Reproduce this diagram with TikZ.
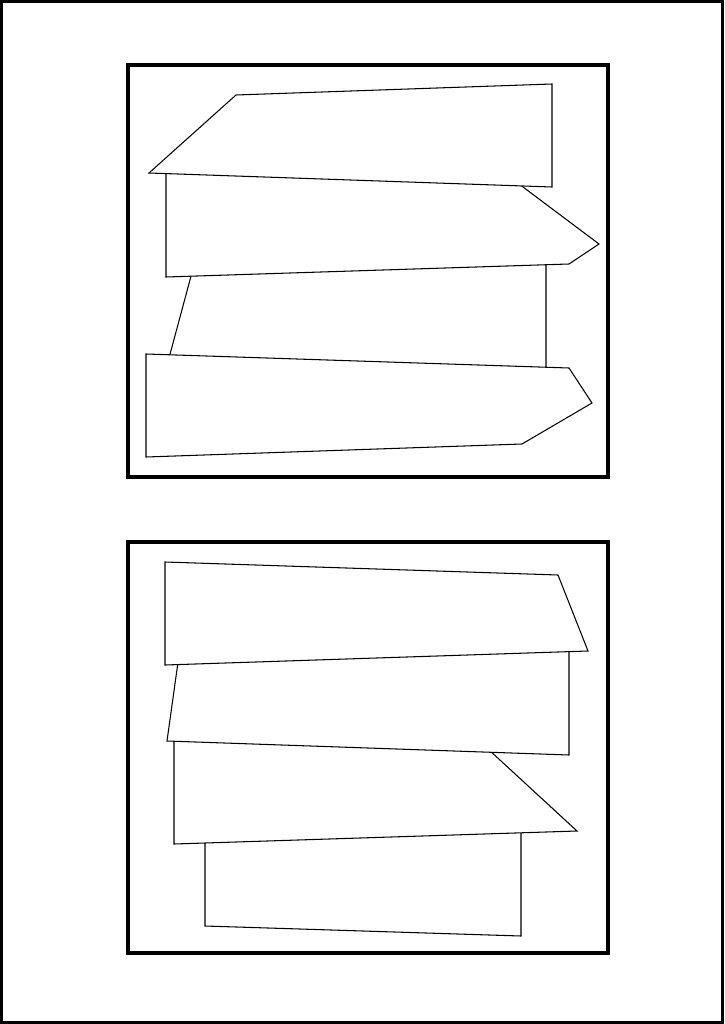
\documentclass[tikz,border=0pt]{standalone}
\usepackage{tikz}

\begin{document}
\begin{tikzpicture}
[
    x=0.025cm, y=-0.025cm,
    frame/.style={draw, line width=2.4pt},
    panel/.style={draw, line width=2.6pt},
    plank/.style={draw, fill=white, line width=0.75pt, line join=miter},
]
\useasboundingbox (0,0) rectangle (724,1024);
\draw [frame] (1.5,1.5) rectangle (722.5,1022.5);
% upper panel
\draw [panel] (128,65) rectangle (608,477);
\draw [plank] (194,265) -- (546,255) -- (546,370) -- (169,358) -- cycle;
\draw [plank] (166,171) -- (519,184) -- (599,244) -- (569,264) -- (166,277) -- cycle;
\draw [plank] (236,95) -- (552,84) -- (552,187) -- (149,173) -- cycle;
\draw [plank] (146,354) -- (569,368) -- (592,403) -- (522,444) -- (146,457) -- cycle;
% lower panel
\draw [panel] (128,542) rectangle (608,953);
\draw [plank] (205,838) -- (521,828) -- (521,936) -- (205,926) -- cycle;
\draw [plank] (174,739) -- (488,749) -- (577,831) -- (174,844) -- cycle;
\draw [plank] (179,655) -- (569,645) -- (569,755) -- (167,741) -- cycle;
\draw [plank] (165,562) -- (558,575) -- (588,651) -- (165,665) -- cycle;
\end{tikzpicture}
\end{document}
